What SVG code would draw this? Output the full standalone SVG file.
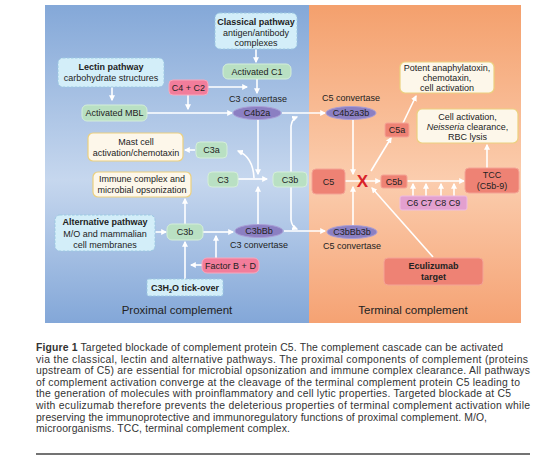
<svg xmlns="http://www.w3.org/2000/svg" width="542" height="462" viewBox="0 0 542 462">
<style>
text{font-family:"Liberation Sans",Arial,sans-serif;font-size:9px;fill:#222;text-anchor:middle}
.b{font-weight:bold}
.path{fill:#d3eef9;stroke:#9cc9e2;stroke-width:1;stroke-dasharray:2.5 1.5}
.g{fill:#b9e0c3;stroke:#d4eed9;stroke-width:1}
.pk{fill:#f27d9b;stroke:#f7a9bd;stroke-width:1}
.el{fill:#8b7fc2;stroke:#a99ed6;stroke-width:1}
.y{fill:#fdf7ea;stroke:#ecd07e;stroke-width:1.2}
.r{fill:#ee8274;stroke:#f4a496;stroke-width:1}
.c{fill:#e3a0cf;stroke:#eebde0;stroke-width:1}
.cn path{fill:none;stroke:#fff;stroke-width:1.6}
.cap{font-family:"Liberation Sans",Arial,sans-serif;font-size:10.4px;fill:#333;text-anchor:start}
</style>
<defs>
<linearGradient id="blue" x1="0" y1="0" x2="0" y2="1">
<stop offset="0" stop-color="#84a8d8"/>
<stop offset="0.55" stop-color="#c6d7ee"/>
<stop offset="1" stop-color="#83a7d8"/>
</linearGradient>
<linearGradient id="orange" x1="0" y1="0" x2="0" y2="1">
<stop offset="0" stop-color="#f4a06d"/>
<stop offset="0.55" stop-color="#fbcdae"/>
<stop offset="1" stop-color="#f5a273"/>
</linearGradient>
<marker id="ah" viewBox="0 0 10 10" refX="8" refY="5" markerWidth="6" markerHeight="6" orient="auto" markerUnits="userSpaceOnUse">
<path d="M0,0 L10,5 L0,10 z" fill="#fff"/>
</marker>
</defs>
<rect width="542" height="462" fill="#fff"/>
<rect x="45" y="5" width="264" height="318" fill="url(#blue)"/>
<rect x="309" y="5" width="212" height="318" fill="url(#orange)"/>
<text x="177" y="314" style="font-size:11.5px">Proximal complement</text>
<text x="413" y="314" style="font-size:11.5px">Terminal complement</text>

<g class="cn" marker-end="url(#ah)">
<path d="M256,49 L256,62"/>
<path d="M257,79 L257,93"/>
<path d="M208,87 L247,87"/>
<path d="M188,95 L188,109"/>
<path d="M112,87 L112,100"/>
<path d="M147,113 L232,113"/>
<path d="M282,113 L325,113"/>
<path d="M258,119 L258,174"/>
<path d="M238,179 L267,179"/>
<path d="M254,178 Q253,157 238,151"/>
<path d="M258,225 L258,187"/>
<path d="M291,172 L291,126 Q292,119 297,117"/>
<path d="M291,187 L291,220 Q292,227 297,229"/>
<path d="M195,150 L185,150"/>
<path d="M185,224 L185,199"/>
<path d="M155,232 L166,232"/>
<path d="M203,232 L233,232"/>
<path d="M185,279 L185,242"/>
<path d="M202,265 L191,265"/>
<path d="M216,258 L216,236"/>
<path d="M284,231 L325,231"/>
<path d="M353,118 L353,174"/>
<path d="M353,227 L353,187"/>
<path d="M345,181 L380,181"/>
<path d="M371,171 L391,138"/>
<path d="M403,123 L416,96"/>
<path d="M407,181 L464,181"/>
<path d="M413,196 L413,184"/>
<path d="M426,196 L426,184"/>
<path d="M441,196 L441,184"/>
<path d="M454,196 L454,184"/>
<path d="M487,168 L487,145"/>
<path d="M433,257 L372,188"/>
</g>

<g id="classical"><rect class="path" x="215" y="13" width="82" height="36" rx="5"/>
<text x="256" y="25" class="b">Classical pathway</text><text x="256" y="36">antigen/antibody</text><text x="256" y="46">complexes</text></g>
<g id="c1"><rect class="g" x="223" y="64" width="68" height="15" rx="5"/><text x="257" y="74.5">Activated C1</text></g>
<g id="lectin"><rect class="path" x="58" y="58" width="106" height="29" rx="5"/>
<text x="111" y="70" class="b">Lectin pathway</text><text x="111" y="81">carbohydrate structures</text></g>
<g id="c4c2"><rect class="pk" x="169" y="80" width="39" height="15" rx="4"/><text x="188.5" y="90.5">C4 + C2</text></g>
<g id="mbl"><rect class="g" x="82" y="105" width="65" height="16" rx="5"/><text x="114.5" y="116">Activated MBL</text></g>
<text x="258" y="102">C3 convertase</text>
<g id="c4b2a"><ellipse class="el" cx="257" cy="113" rx="24" ry="6.5"/><text x="257" y="116">C4b2a</text></g>
<text x="351" y="101">C5 convertase</text>
<g id="c4b2a3b"><ellipse class="el" cx="351" cy="113" rx="25" ry="6.5"/><text x="351" y="116">C4b2a3b</text></g>
<g id="mast"><rect class="y" x="88" y="133" width="95" height="28" rx="5"/>
<text x="136" y="145">Mast cell</text><text x="136" y="156">activation/chemotaxin</text></g>
<g id="c3a"><rect class="g" x="196" y="142" width="31" height="16" rx="4"/><text x="211.5" y="153">C3a</text></g>
<g id="immune"><rect class="y" x="93" y="172" width="98" height="25" rx="5"/>
<text x="142" y="182">Immune complex and</text><text x="142" y="193">microbial opsonization</text></g>
<g id="c3"><rect class="g" x="208" y="172" width="30" height="15" rx="4"/><text x="223" y="182.5">C3</text></g>
<g id="c3b"><rect class="g" x="273" y="172" width="34" height="15" rx="4"/><text x="290" y="182.5">C3b</text></g>
<g id="alt"><rect class="path" x="55" y="215" width="100" height="36" rx="5"/>
<text x="105" y="225" class="b">Alternative pathway</text><text x="105" y="237">M/O and mammalian</text><text x="105" y="248">cell membranes</text></g>
<g id="c3b2"><rect class="g" x="167" y="224" width="36" height="16" rx="5"/><text x="185" y="235">C3b</text></g>
<g id="c3bbb"><ellipse class="el" cx="259" cy="231" rx="24" ry="6.5"/><text x="259" y="234">C3bBb</text></g>
<text x="259" y="248">C3 convertase</text>
<g id="factor"><rect class="pk" x="202" y="258" width="57" height="15" rx="5"/><text x="230.5" y="268.5">Factor B + D</text></g>
<g id="tick"><rect class="path" x="147" y="279" width="76" height="17" rx="2"/>
<text x="185" y="291" class="b">C3H<tspan style="font-size:5.5px" dy="2">2</tspan><tspan dy="-2">O tick-over</tspan></text></g>
<g id="potent"><rect class="y" x="400" y="62" width="94" height="31" rx="5"/>
<text x="447" y="71">Potent anaphylatoxin,</text><text x="447" y="81">chemotaxin,</text><text x="447" y="91">cell activation</text></g>
<g id="cellact"><rect class="y" x="417" y="109" width="101" height="34" rx="5"/>
<text x="467.5" y="120">Cell activation,</text><text x="467.5" y="130"><tspan font-style="italic">Neisseria</tspan> clearance,</text><text x="467.5" y="140">RBC lysis</text></g>
<g id="c5a"><rect class="r" x="385" y="123" width="24" height="14" rx="2"/><text x="397" y="133">C5a</text></g>
<g id="c5"><rect class="r" x="312" y="169" width="33" height="25" rx="4"/><text x="328.5" y="184.5">C5</text></g>
<g id="c5b"><rect class="r" x="381" y="175" width="26" height="13" rx="2"/><text x="394" y="184.5">C5b</text></g>
<g id="tcc"><rect class="r" x="465" y="168" width="54" height="25" rx="4"/>
<text x="492" y="178">TCC</text><text x="492" y="189">(C5b-9)</text></g>
<g id="c6c9"><rect class="c" x="400" y="196" width="67" height="14" rx="2"/><text x="433.5" y="206">C6 C7 C8 C9</text></g>
<g id="c3bbb3b"><ellipse class="el" cx="352" cy="232" rx="25" ry="6.5"/><text x="352" y="235">C3bBb3b</text></g>
<text x="352" y="249">C5 convertase</text>
<g id="ecu"><rect class="r" x="384" y="258" width="99" height="27" rx="4"/>
<text x="433.5" y="269" class="b">Eculizumab</text><text x="433.5" y="280" class="b">target</text></g>
<g id="block"><text x="362.5" y="186.5" style="font-size:17px;font-weight:bold;fill:#d8232a">X</text></g>

<g id="caption">
<text class="cap" x="36" y="351" textLength="467" lengthAdjust="spacing"><tspan font-weight="bold">Figure 1</tspan>  Targeted blockade of complement protein C5. The complement cascade can be activated</text>
<text class="cap" x="36" y="362.6" textLength="492" lengthAdjust="spacing">via the classical, lectin and alternative pathways. The proximal components of complement (proteins</text>
<text class="cap" x="36" y="374.2" textLength="494" lengthAdjust="spacing">upstream of C5) are essential for microbial opsonization and immune complex clearance. All pathways</text>
<text class="cap" x="36" y="385.8" textLength="484" lengthAdjust="spacing">of complement activation converge at the cleavage of the terminal complement protein C5 leading to</text>
<text class="cap" x="36" y="397.4" textLength="475" lengthAdjust="spacing">the generation of molecules with proinflammatory and cell lytic properties. Targeted blockade at C5</text>
<text class="cap" x="36" y="409" textLength="494" lengthAdjust="spacing">with eculizumab therefore prevents the deleterious properties of terminal complement activation while</text>
<text class="cap" x="36" y="420.6" textLength="451" lengthAdjust="spacing">preserving the immunoprotective and immunoregulatory functions of proximal complement. M/O,</text>
<text class="cap" x="36" y="432.2" textLength="254" lengthAdjust="spacing">microorganisms. TCC, terminal complement complex.</text>
<line x1="36" y1="454" x2="530" y2="454" stroke="#444" stroke-width="1.5"/>
</g>
</svg>
